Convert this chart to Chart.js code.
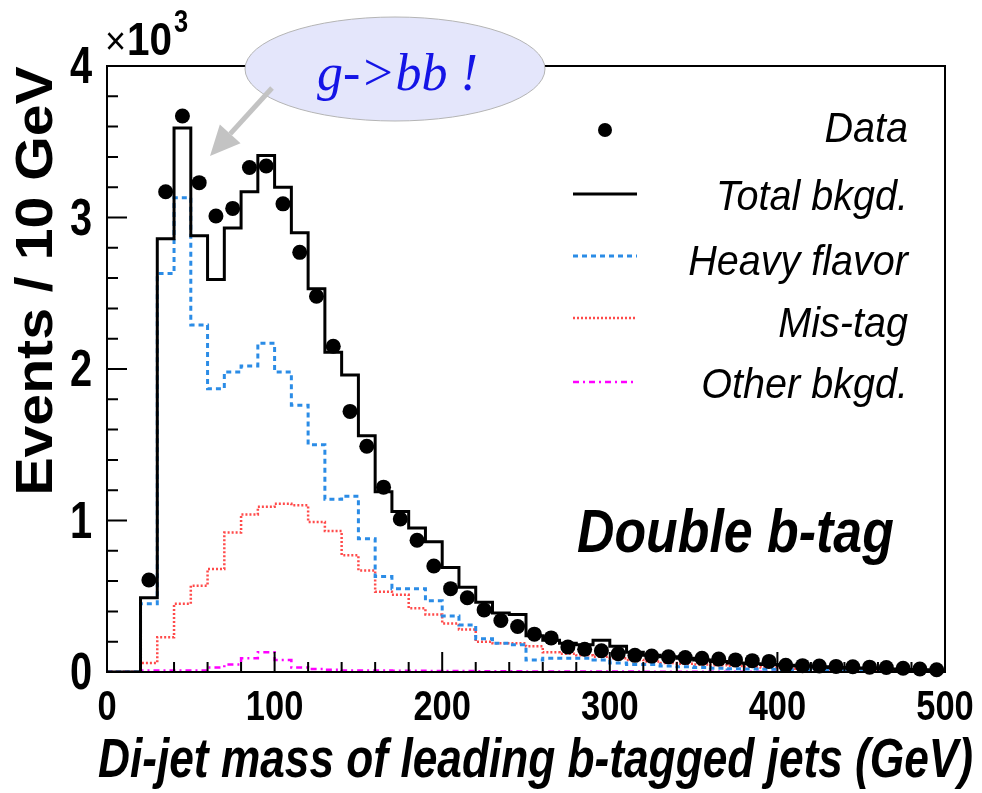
<!DOCTYPE html>
<html>
<head>
<meta charset="utf-8">
<script src="https://cdn.jsdelivr.net/npm/chart.js@4"></script>
<style>
  html, body { margin: 0; padding: 0; background: #fff; }
  #wrap { width: 982px; height: 793px; }
</style>
</head>
<body>
<div id="wrap"><canvas id="massChart" width="982" height="793"></canvas></div>
<script>
// Data State: 10 GeV bins, left edges 0..490
const binEdges = [0, 10, 20, 30, 40, 50, 60, 70, 80, 90, 100, 110, 120, 130, 140, 150, 160, 170, 180, 190,
  200, 210, 220, 230, 240, 250, 260, 270, 280, 290, 300, 310, 320, 330, 340, 350, 360, 370, 380, 390,
  400, 410, 420, 430, 440, 450, 460, 470, 480, 490];
const totalBkgd = [0, 0, 490, 2860, 3590, 2880, 2590, 2930, 3170, 3410, 3200, 2900, 2530, 2110, 1960, 1560, 1190, 1060, 950, 860,
  690, 560, 460, 390, 380, 240, 210, 190, 180, 210, 170, 130, 110, 100, 90, 80, 70, 60, 55, 50,
  45, 40, 35, 30, 27, 24, 20, 17, 15, 12];
const heavyFlavor = [0, 0, 450, 2630, 3130, 2290, 1870, 1980, 2020, 2170, 1980, 1760, 1500, 1140, 1160, 880, 630, 550, 550, 470,
  370, 310, 220, 190, 180, 80, 90, 90, 90, 80, 60, 50, 50, 40, 35, 30, 25, 22, 20, 18,
  15, 13, 11, 10, 8, 7, 6, 5, 4, 3];
const misTag = [0, 0, 60, 230, 450, 570, 680, 920, 1040, 1090, 1110, 1100, 990, 930, 770, 670, 530, 510, 420, 380,
  320, 280, 200, 190, 190, 170, 130, 120, 110, 100, 90, 80, 70, 60, 55, 50, 45, 40, 35, 30,
  26, 22, 19, 16, 13, 11, 9, 7, 5, 4];
const otherBkgd = [0, 0, 10, 10, 10, 10, 30, 50, 90, 130, 80, 30, 20, 15, 10, 10, 10, 8, 8, 7,
  6, 6, 5, 5, 5, 4, 4, 4, 3, 3, 3, 3, 2, 2, 2, 2, 2, 2, 2, 1,
  1, 1, 1, 1, 1, 1, 1, 1, 1, 1];

// Data points at bin centres 25..495
const dataMass = [25, 35, 45, 55, 65, 75, 85, 95, 105, 115, 125, 135, 145, 155, 165, 175, 185, 195,
  205, 215, 225, 235, 245, 255, 265, 275, 285, 295, 305, 315, 325, 335, 345, 355, 365, 375, 385, 395,
  405, 415, 425, 435, 445, 455, 465, 475, 485, 495];
const dataEvents = [607, 3170, 3670, 3230, 3010, 3060, 3330, 3340, 3090, 2770, 2480, 2150, 1720, 1490, 1220, 1010, 870, 700,
  550, 490, 410, 340, 300, 250, 225, 165, 150, 140, 120, 110, 105, 100, 95, 90, 85, 80, 75, 70,
  45, 42, 40, 37, 35, 32, 30, 25, 20, 15];

// Axis ticks
const xMajorTicks = [0, 100, 200, 300, 400, 500];
const yMajorTicks = [0, 1000, 2000, 3000, 4000];

const BIN_WIDTH = 10;

// Histogram as step line: one point per left edge, plus the closing right edge
function histPoints(values) {
  const pts = binEdges.map((e, i) => ({ x: e, y: values[i] }));
  pts.push({ x: binEdges[binEdges.length - 1] + BIN_WIDTH, y: values[values.length - 1] });
  return pts;
}

const styles = {
  total: { color: '#000000', width: 3, dash: [] },
  heavy: { color: '#2b8ce6', width: 3, dash: [5, 4] },
  mistag: { color: '#ff4a4a', width: 2.5, dash: [2, 2] },
  other: { color: '#ff00ff', width: 2.5, dash: [6, 4, 2, 4] }
};

function squeezeText(ctx, str, x, y, font, sx, align, color) {
  ctx.save();
  ctx.font = font;
  ctx.fillStyle = color || '#000';
  ctx.textAlign = align || 'left';
  ctx.textBaseline = 'alphabetic';
  ctx.translate(x, y);
  ctx.scale(sx, 1);
  ctx.fillText(str, 0, 0);
  ctx.restore();
}

const rootStyle = {
  id: 'rootStyle',
  afterDraw(chart) {
    const ctx = chart.ctx;
    const area = chart.chartArea;
    const xs = chart.scales.x;
    const ys = chart.scales.y;

    // frame
    ctx.save();
    ctx.strokeStyle = '#000';
    ctx.lineWidth = 2;
    ctx.strokeRect(area.left, area.top, area.right - area.left, area.bottom - area.top);

    // inward ticks
    ctx.lineWidth = 2;
    ctx.beginPath();
    for (let v = 0; v <= 500; v += 20) {
      const px = xs.getPixelForValue(v);
      const len = v % 100 === 0 ? 20 : 10;
      ctx.moveTo(px, area.bottom);
      ctx.lineTo(px, area.bottom - len);
    }
    for (let v = 0; v <= 4000; v += 200) {
      const py = ys.getPixelForValue(v);
      const len = v % 1000 === 0 ? 20 : 11;
      ctx.moveTo(area.left, py);
      ctx.lineTo(area.left + len, py);
    }
    ctx.stroke();
    ctx.restore();

    // tick labels
    xMajorTicks.forEach(v => {
      squeezeText(ctx, String(v), xs.getPixelForValue(v), 720,
        'bold 42px "Liberation Sans", Arial, sans-serif', 0.82, 'center');
    });
    yMajorTicks.forEach(v => {
      squeezeText(ctx, String(v / 1000), 92, ys.getPixelForValue(v) + 17,
        'bold 51px "Liberation Sans", Arial, sans-serif', 0.78, 'right');
    });

    // exponent
    squeezeText(ctx, '\u00d7', 105, 54, '38px "Liberation Sans", Arial, sans-serif', 0.95, 'left');
    squeezeText(ctx, '10', 127, 55, 'bold 46px "Liberation Sans", Arial, sans-serif', 0.88, 'left');
    squeezeText(ctx, '3', 174, 32, 'bold 31px "Liberation Sans", Arial, sans-serif', 0.82, 'left');

    // axis titles
    ctx.save();
    ctx.translate(52, 281);
    ctx.rotate(-Math.PI / 2);
    ctx.scale(1.1, 1);
    ctx.font = 'bold 52px "Liberation Sans", Arial, sans-serif';
    ctx.fillStyle = '#000';
    ctx.textAlign = 'center';
    ctx.textBaseline = 'alphabetic';
    ctx.fillText('Events / 10 GeV', 0, 0);
    ctx.restore();

    squeezeText(ctx, 'Di-jet mass of leading b-tagged jets (GeV)', 98, 777,
      'italic bold 56px "Liberation Sans", Arial, sans-serif', 0.79, 'left');

    // Double b-tag label
    squeezeText(ctx, 'Double b-tag', 577, 552, 'italic bold 61px "Liberation Sans", Arial, sans-serif', 0.85, 'left');

    // legend
    const legendFont = 'italic 43px "Liberation Sans", Arial, sans-serif';
    const entries = [
      { label: 'Data', base: 142, mark: 130, kind: 'dot' },
      { label: 'Total bkgd.', base: 210, mark: 194, kind: 'total' },
      { label: 'Heavy flavor', base: 275, mark: 256, kind: 'heavy' },
      { label: 'Mis-tag', base: 337, mark: 318, kind: 'mistag' },
      { label: 'Other bkgd.', base: 398, mark: 382, kind: 'other' }
    ];
    entries.forEach(e => {
      squeezeText(ctx, e.label, 908, e.base, legendFont, 0.92, 'right');
      ctx.save();
      if (e.kind === 'dot') {
        ctx.fillStyle = '#000';
        ctx.beginPath();
        ctx.arc(605, e.mark, 7, 0, Math.PI * 2);
        ctx.fill();
      } else {
        const s = styles[e.kind];
        ctx.strokeStyle = s.color;
        ctx.lineWidth = s.width;
        ctx.setLineDash(s.dash);
        ctx.beginPath();
        ctx.moveTo(573, e.mark);
        ctx.lineTo(637, e.mark);
        ctx.stroke();
      }
      ctx.restore();
    });

    // g->bb annotation bubble
    ctx.save();
    ctx.beginPath();
    ctx.ellipse(395, 69, 150, 52, 0, 0, Math.PI * 2);
    ctx.fillStyle = '#e4e6fb';
    ctx.fill();
    ctx.strokeStyle = '#b4b4b4';
    ctx.lineWidth = 1;
    ctx.stroke();

    // arrow
    const x0 = 272, y0 = 88, x1 = 210, y1 = 156;
    const ang = Math.atan2(y1 - y0, x1 - x0);
    const headLen = 30, headHalf = 14;
    const bx = x1 - headLen * Math.cos(ang), by = y1 - headLen * Math.sin(ang);
    ctx.strokeStyle = '#c3c3c3';
    ctx.fillStyle = '#c3c3c3';
    ctx.lineWidth = 5;
    ctx.beginPath();
    ctx.moveTo(x0, y0);
    ctx.lineTo(bx, by);
    ctx.stroke();
    ctx.beginPath();
    ctx.moveTo(x1, y1);
    ctx.lineTo(bx + headHalf * Math.sin(ang), by - headHalf * Math.cos(ang));
    ctx.lineTo(bx - headHalf * Math.sin(ang), by + headHalf * Math.cos(ang));
    ctx.closePath();
    ctx.fill();
    ctx.restore();

    squeezeText(ctx, 'g->bb !', 317, 90, 'italic 52px "Liberation Serif", "DejaVu Serif", serif', 1.0, 'left', '#1414e6');
  }
};

function histDataset(label, values, s, order) {
  return {
    label: label,
    data: histPoints(values),
    stepped: 'before',
    borderColor: s.color,
    borderWidth: s.width,
    borderDash: s.dash,
    pointRadius: 0,
    fill: false,
    order: order
  };
}

const ctx = document.getElementById('massChart').getContext('2d');
const massChart = new Chart(ctx, {
  type: 'line',
  data: {
    datasets: [
      {
        label: 'Data',
        data: dataMass.map((m, i) => ({ x: m, y: dataEvents[i] })),
        showLine: false,
        pointRadius: 7.5,
        pointBackgroundColor: '#000',
        pointBorderWidth: 0,
        clip: false,
        order: 0
      },
      histDataset('Total bkgd.', totalBkgd, styles.total, 1),
      histDataset('Heavy flavor', heavyFlavor, styles.heavy, 2),
      histDataset('Mis-tag', misTag, styles.mistag, 3),
      histDataset('Other bkgd.', otherBkgd, styles.other, 4)
    ]
  },
  options: {
    responsive: false,
    devicePixelRatio: 1,
    animation: false,
    layout: { padding: { left: 107, top: 66, right: 37, bottom: 121 } },
    plugins: { legend: { display: false }, tooltip: { enabled: false } },
    scales: {
      x: { type: 'linear', min: 0, max: 500, display: false },
      y: { type: 'linear', min: 0, max: 4000, display: false }
    }
  },
  plugins: [rootStyle]
});
</script>
</body>
</html>
